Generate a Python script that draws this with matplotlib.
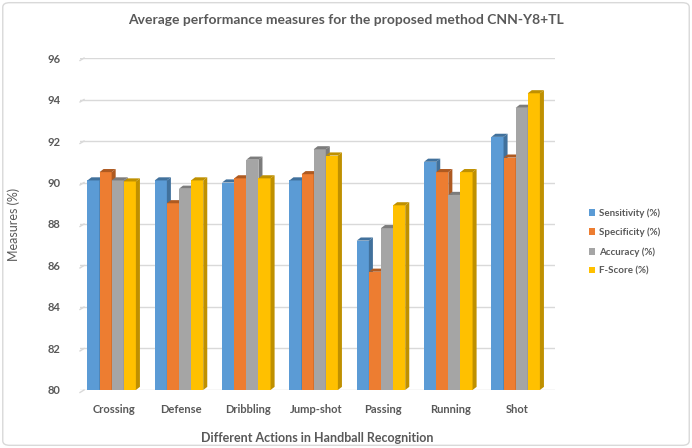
import matplotlib.pyplot as plt
import numpy as np
from matplotlib.patches import Polygon, Patch, FancyBboxPatch

# Measures per action (%)
actions = ['Crossing', 'Defense', 'Dribbling', 'Jump-shot', 'Passing', 'Running', 'Shot']
sensitivity = [90.1, 90.1, 90.0, 90.1, 87.2, 91.0, 92.2]
specificity = [90.5, 89.0, 90.2, 90.4, 85.7, 90.5, 91.2]
accuracy    = [90.1, 89.7, 91.1, 91.6, 87.8, 89.4, 93.6]
f_score     = [90.05, 90.1, 90.2, 91.3, 88.9, 90.5, 94.3]

series = [('Sensitivity (%)', sensitivity, '#5B9BD5', '#41719C'),
          ('Specificity (%)', specificity, '#ED7D31', '#AE5A21'),
          ('Accuracy (%)',    accuracy,    '#A5A5A5', '#7C7C7C'),
          ('F-Score (%)',     f_score,     '#FFC000', '#BF9000')]

plt.rcParams['font.family'] = ['Lato', 'DejaVu Sans']
txt = '#595959'

fig = plt.figure(figsize=(6.92, 4.48), dpi=100)
ax = fig.add_axes([0.1156, 0.1295, 0.686, 0.741])

# chart border
fig.patches.append(FancyBboxPatch((0.004, 0.006), 0.992, 0.988, boxstyle='round,pad=0,rounding_size=0.01',
                                  transform=fig.transFigure, fill=False, ec='#D9D9D9', lw=1))

x = np.arange(len(actions))
w = 0.18
dx, dy = 0.06, 0.15   # pseudo-3D depth offsets (data units)
base = 80

for i, (name, vals, face, dark) in enumerate(series):
    xs = x - 1.5 * w + i * w - 0.03
    bars = ax.bar(xs, np.array(vals) - base, w, bottom=base, color=face, zorder=3 + i * 0.1)
    for b in bars:
        x0, x1 = b.get_x(), b.get_x() + b.get_width()
        top = b.get_y() + b.get_height()
        side = Polygon([(x1, base), (x1 + dx, base + dy), (x1 + dx, top + dy), (x1, top)],
                       closed=True, fc=dark, ec='none', zorder=3 + i * 0.1)
        cap = Polygon([(x0, top), (x0 + dx, top + dy), (x1 + dx, top + dy), (x1, top)],
                      closed=True, fc=dark, ec='none', zorder=3 + i * 0.1)
        ax.add_patch(side)
        ax.add_patch(cap)

ax.set_xlim(-0.5, 6.55)
ax.set_ylim(80, 96)
ax.set_yticks(np.arange(80, 97, 2))
ax.set_xticks(x)
ax.set_xticklabels(actions, fontsize=8, fontweight='bold', color=txt)
ax.tick_params(axis='y', labelsize=8, labelcolor=txt, length=0, pad=14)
ax.tick_params(axis='x', length=0, pad=10)
for lbl in ax.get_yticklabels():
    lbl.set_fontweight('bold')
ax.yaxis.grid(True, color='#D9D9D9', lw=1, zorder=0)
for s in ax.spines.values():
    s.set_visible(False)

# small slanted wall edges at the left of each gridline
for yv in np.arange(80, 97, 2):
    ax.plot([-0.5, -0.44], [yv - 0.12, yv], color='#D9D9D9', lw=1, clip_on=False, zorder=0)

ax.set_ylabel('Measures (%)', fontsize=9, color=txt, labelpad=20)
ax.set_xlabel('Different Actions in Handball Recognition', fontsize=9, fontweight='bold',
              color=txt, labelpad=12)
fig.text(0.5, 0.955, 'Average performance measures for the proposed method CNN-Y8+TL',
         ha='center', va='center', fontsize=10, fontweight='bold', color=txt)

handles = [Patch(fc=s[2], ec='none', label=s[0]) for s in series]
leg = fig.legend(handles=handles, loc='center left', bbox_to_anchor=(0.838, 0.46), frameon=False,
                 fontsize=7, handlelength=0.7, handleheight=0.7, handletextpad=0.4, labelspacing=1.0)
for t in leg.get_texts():
    t.set_color(txt)
    t.set_fontweight('bold')

fig.savefig('out.png', dpi=100)
